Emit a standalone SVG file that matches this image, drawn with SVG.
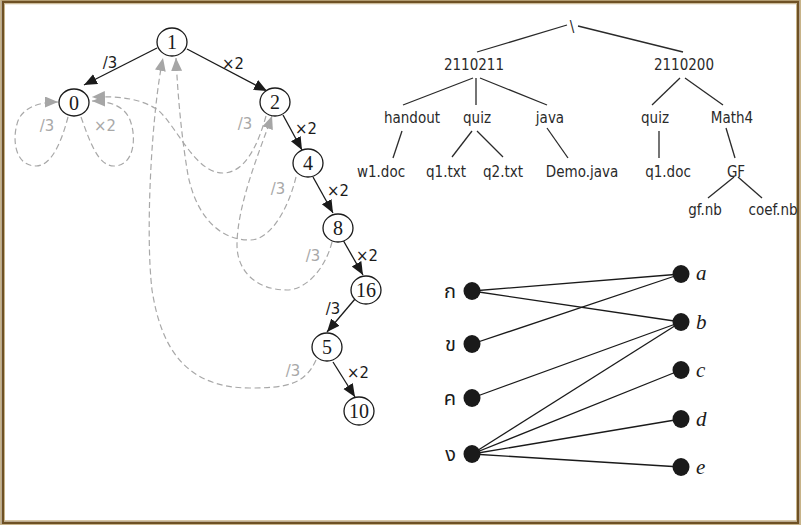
<svg xmlns="http://www.w3.org/2000/svg" width="801" height="525" viewBox="0 0 801 525">
<style>
.nd{fill:#fff;stroke:#1a1a1a;stroke-width:1.3}
.nt{font-family:"Liberation Serif","Times New Roman",serif;font-size:20px;fill:#1a1a1a;text-anchor:middle}
.e{stroke:#1a1a1a;stroke-width:1.3;fill:none;marker-end:url(#ab)}
.g{stroke:#a8a8a8;stroke-width:1.2;fill:none;stroke-dasharray:6 3.5;marker-end:url(#ag)}
.lb{font-family:"DejaVu Sans Condensed","DejaVu Sans",sans-serif;font-size:16.5px;fill:#1a1a1a;text-anchor:middle}
.lg{font-family:"DejaVu Sans Condensed","DejaVu Sans",sans-serif;font-size:16.5px;fill:#a8a8a8;text-anchor:middle}
.tt{font-family:"DejaVu Sans Condensed","DejaVu Sans",sans-serif;font-size:15px;fill:#2a2a2a;text-anchor:middle}
.tl{stroke:#2a2a2a;stroke-width:1.3}
.bl{stroke:#1a1a1a;stroke-width:1.3}
.dot{fill:#1a1a1a}
.th{font-family:"Noto Sans Thai","Noto Serif Thai","Liberation Serif",serif;font-size:20px;fill:#1a1a1a;text-anchor:end}
.it{font-family:"Liberation Serif","Times New Roman",serif;font-style:italic;font-size:21px;fill:#1a1a1a}
</style>
<defs>
<marker id="ab" markerUnits="userSpaceOnUse" markerWidth="14" markerHeight="12" refX="13" refY="5.5" orient="auto"><path d="M0,0 L13,5.5 L0,11 z" fill="#1a1a1a"/></marker>
<marker id="ag" markerUnits="userSpaceOnUse" markerWidth="14" markerHeight="12" refX="13" refY="5.5" orient="auto"><path d="M0,0 L13,5.5 L0,11 z" fill="#a6a6a6"/></marker>
</defs>
<rect x="0" y="0" width="801" height="525" fill="#fff"/>
<rect x="0.5" y="0.5" width="800" height="524" fill="none" stroke="#c8b48a" stroke-width="1"/>
<rect x="2.75" y="2" width="795.5" height="520.75" fill="none" stroke="#6e5125" stroke-width="2.5"/>
<rect x="4.5" y="3.75" width="792" height="517" fill="none" stroke="#c8b48a" stroke-width="1"/>

<g id="connectors">
<line class="e" x1="157" y1="48" x2="84" y2="85"/>
<line class="e" x1="187" y1="49" x2="267" y2="91"/>
<line class="e" x1="283" y1="115" x2="302" y2="150"/>
<line class="e" x1="313" y1="177" x2="333" y2="213"/>
<line class="e" x1="343" y1="240" x2="363" y2="275"/>
<line class="e" x1="355" y1="299" x2="327" y2="332"/>
<line class="e" x1="333" y1="362" x2="355" y2="397"/>
<path class="g" d="M68,117 C62,140 52,166 36,166 C16,166 12,142 17,124 C21,108 38,102 58,102"/>
<path class="g" d="M81,117 C90,142 98,166 114,166 C134,166 137,138 130,120 C124,105 108,101 92,101"/>
<path class="g" d="M266,116 C258,145 245,173 223,173 C195,173 178,128 158,110 C140,98 118,96 92,97"/>
<path class="g" d="M296,177 C288,210 270,240 250,240 C215,240 195,210 188,175 C182,140 178,100 176,58"/>
<path class="g" d="M332,242 C325,270 305,290 287,290 C255,290 237,270 237,245 C237,205 260,150 272,116"/>
<path class="g" d="M316,360 C305,385 285,388 250,388 C180,388 160,340 152,290 C145,230 152,110 163,58"/>
<text class="lb" x="110" y="68">/3</text>
<text class="lb" x="233" y="69">×2</text>
<text class="lb" x="306" y="134">×2</text>
<text class="lb" x="338" y="196">×2</text>
<text class="lb" x="367" y="261">×2</text>
<text class="lb" x="333" y="314">/3</text>
<text class="lb" x="358" y="378">×2</text>
<text class="lg" x="47" y="131">/3</text>
<text class="lg" x="105" y="131">×2</text>
<text class="lg" x="245" y="129">/3</text>
<text class="lg" x="278" y="194">/3</text>
<text class="lg" x="313" y="261">/3</text>
<text class="lg" x="293" y="376">/3</text>

<line class="tl" x1="567" y1="25" x2="477" y2="52"/>
<line class="tl" x1="578" y1="26" x2="683" y2="52"/>
<line class="tl" x1="473" y1="78" x2="403" y2="105"/>
<line class="tl" x1="476" y1="78" x2="476" y2="105"/>
<line class="tl" x1="480" y1="78" x2="547" y2="105"/>
<line class="tl" x1="680" y1="78" x2="652" y2="105"/>
<line class="tl" x1="685" y1="78" x2="723" y2="105"/>
<line class="tl" x1="402" y1="131" x2="393" y2="158"/>
<line class="tl" x1="472" y1="131" x2="452" y2="157"/>
<line class="tl" x1="477" y1="131" x2="503" y2="157"/>
<line class="tl" x1="547" y1="128" x2="568" y2="158"/>
<line class="tl" x1="659" y1="131" x2="659" y2="158"/>
<line class="tl" x1="726" y1="128" x2="735" y2="158"/>
<line class="tl" x1="734" y1="177" x2="708" y2="198"/>
<line class="tl" x1="738" y1="177" x2="762" y2="198"/>

<line class="bl" x1="472" y1="291" x2="681" y2="274"/>
<line class="bl" x1="472" y1="291" x2="681" y2="322"/>
<line class="bl" x1="472" y1="344" x2="681" y2="274"/>
<line class="bl" x1="472" y1="398" x2="681" y2="322"/>
<line class="bl" x1="472" y1="454" x2="681" y2="322"/>
<line class="bl" x1="472" y1="454" x2="681" y2="370"/>
<line class="bl" x1="472" y1="454" x2="681" y2="419"/>
<line class="bl" x1="472" y1="454" x2="681" y2="467"/>
</g>

<g id="n1"><ellipse class="nd" cx="172" cy="42" rx="15" ry="14"/><text class="nt" x="172" y="49">1</text></g>
<g id="n0"><ellipse class="nd" cx="74" cy="102.5" rx="15" ry="13.5"/><text class="nt" x="74" y="109.5">0</text></g>
<g id="n2"><ellipse class="nd" cx="275" cy="102" rx="15" ry="14"/><text class="nt" x="275" y="109">2</text></g>
<g id="n4"><ellipse class="nd" cx="308" cy="163" rx="15" ry="14"/><text class="nt" x="308" y="170">4</text></g>
<g id="n8"><ellipse class="nd" cx="338" cy="228" rx="15" ry="14"/><text class="nt" x="338" y="235">8</text></g>
<g id="n16"><ellipse class="nd" cx="366" cy="290" rx="15" ry="14"/><text class="nt" x="366" y="297">16</text></g>
<g id="n5"><ellipse class="nd" cx="327" cy="347" rx="15" ry="14"/><text class="nt" x="327" y="354">5</text></g>
<g id="n10"><ellipse class="nd" cx="359" cy="411" rx="15" ry="14"/><text class="nt" x="359" y="418">10</text></g>

<g id="t-root"><text class="tt" x="572" y="32">\</text></g>
<g id="t-2110211"><text class="tt" x="474" y="70">2110211</text></g>
<g id="t-2110200"><text class="tt" x="684" y="70">2110200</text></g>
<g id="t-handout"><text class="tt" x="412" y="123">handout</text></g>
<g id="t-quiz1"><text class="tt" x="477" y="123">quiz</text></g>
<g id="t-java"><text class="tt" x="550" y="123">java</text></g>
<g id="t-quiz2"><text class="tt" x="655" y="123">quiz</text></g>
<g id="t-math4"><text class="tt" x="732" y="123">Math4</text></g>
<g id="t-w1doc"><text class="tt" x="381" y="177">w1.doc</text></g>
<g id="t-q1txt"><text class="tt" x="446" y="177">q1.txt</text></g>
<g id="t-q2txt"><text class="tt" x="503" y="177">q2.txt</text></g>
<g id="t-demo"><text class="tt" x="582" y="177">Demo.java</text></g>
<g id="t-q1doc"><text class="tt" x="668" y="177">q1.doc</text></g>
<g id="t-gf"><text class="tt" x="736" y="177">GF</text></g>
<g id="t-gfnb"><text class="tt" x="705" y="215">gf.nb</text></g>
<g id="t-coefnb"><text class="tt" x="773" y="215">coef.nb</text></g>

<g id="b-ko"><ellipse class="dot" cx="472" cy="291" rx="8.5" ry="9"/><text class="th" x="456" y="298">ก</text></g>
<g id="b-kho"><ellipse class="dot" cx="472" cy="344" rx="8.5" ry="9"/><text class="th" x="456" y="351">ข</text></g>
<g id="b-kho2"><ellipse class="dot" cx="472" cy="398" rx="8.5" ry="9"/><text class="th" x="456" y="405">ค</text></g>
<g id="b-ngo"><ellipse class="dot" cx="472" cy="454" rx="8.5" ry="9"/><text class="th" x="456" y="461">ง</text></g>
<g id="b-a"><ellipse class="dot" cx="681" cy="274" rx="8.5" ry="9"/><text class="it" x="696" y="280">a</text></g>
<g id="b-b"><ellipse class="dot" cx="681" cy="322" rx="8.5" ry="9"/><text class="it" x="696" y="329">b</text></g>
<g id="b-c"><ellipse class="dot" cx="681" cy="370" rx="8.5" ry="9"/><text class="it" x="696" y="377">c</text></g>
<g id="b-d"><ellipse class="dot" cx="681" cy="419" rx="8.5" ry="9"/><text class="it" x="696" y="426">d</text></g>
<g id="b-e"><ellipse class="dot" cx="681" cy="467" rx="8.5" ry="9"/><text class="it" x="696" y="474">e</text></g>
</svg>
